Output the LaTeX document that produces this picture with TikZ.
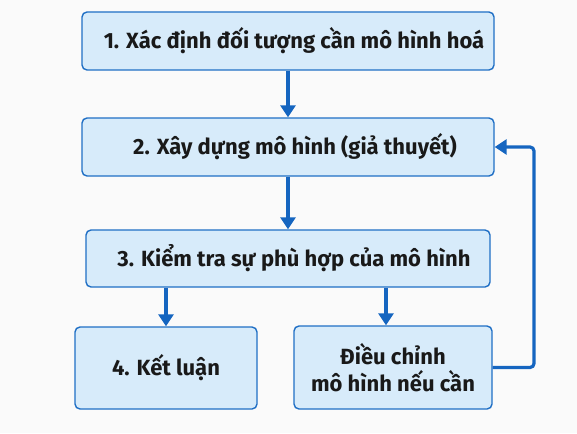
\documentclass[tikz,border=0pt]{standalone}
\usepackage{fontspec}
\setmainfont{Fira Sans}
\usetikzlibrary{arrows.meta}
\definecolor{boxblue}{HTML}{1F6FC5}
\definecolor{boxfill}{HTML}{D7EBFA}
\definecolor{arrblue}{HTML}{1565C0}
\tikzset{
	hop/.style={draw=boxblue, fill=boxfill, line width=1.4pt, rounded corners=5pt, align=center, font=\bfseries\fontsize{22}{27}\selectfont, text=black!90},
	mui/.style={draw=arrblue, line width=3.2pt, ->}
}
\begin{document}
\begin{tikzpicture}[x=1pt,y=-1pt, line join=round, >={Triangle[width=15pt,length=12pt]}]
	\useasboundingbox[fill=black!2] (0,0) rectangle (577,433);
	% Các bước
	\node[hop, minimum width=412pt, minimum height=58pt] (A) at (288,41) {\hspace*{12pt}1. Xác định đối tượng cần mô hình hoá};
	\node[hop, minimum width=412pt, minimum height=58pt] (B) at (288,147) {\hspace*{14pt}2. Xây dựng mô hình (giả thuyết)};
	\node[hop, minimum width=404pt, minimum height=57pt] (C) at (288,258.5) {\hspace*{12pt}3. Kiểm tra sự phù hợp của mô hình};
	\node[hop, minimum width=182pt, minimum height=82pt] (D) at (166,368) {4. Kết luận};
	\node[hop, minimum width=198pt, minimum height=83pt] (E) at (393,367.5) {Điều chỉnh\\mô hình nếu cần};
	% Mũi tên
	\draw[mui] (A) -- (B);
	\draw[mui] (B) -- (C);
	\draw[mui] (C.south -| D) -- (D);
	\draw[mui] (C.south -| 386,0) -- (386,0 |- E.north);
	\coordinate (F) at (534,367.5);
	\draw[mui, rounded corners=4pt] (E.east) -- (F) -- (F |- B.east) -- (B.east);
\end{tikzpicture}
\end{document}
